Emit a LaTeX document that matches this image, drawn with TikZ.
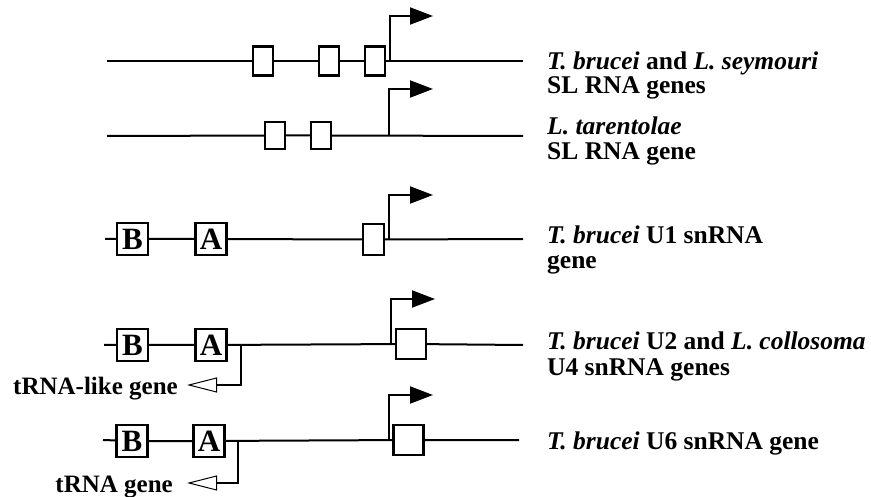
\documentclass[tikz,border=0pt]{standalone}
\usepackage{fontspec}
\setmainfont{Liberation Serif}
\usetikzlibrary{arrows.meta}
\begin{document}
\begin{tikzpicture}[x=1pt,y=-1pt,
 dna/.style={line width=2pt},
 sbox/.style={draw,line width=2.2pt,fill=white,inner sep=0pt},
 bigbox/.style={sbox,minimum width=31pt,minimum height=32pt,font=\fontsize{31}{31}\selectfont\bfseries},
 lbl/.style={anchor=base west,inner sep=0pt,font=\fontsize{25.5}{28}\selectfont\bfseries},
 lblr/.style={anchor=base east,inner sep=0pt,font=\fontsize{25}{28}\selectfont\bfseries},
 prom/.style={line width=2pt,-{Triangle[length=23pt,width=17pt]}},
 trna/.style={line width=2pt,-{Triangle[open,length=30pt,width=15pt,line width=1pt]}}]
\useasboundingbox (0,0) rectangle (871,497);
% Row 1
\coordinate (L1) at (107,61); \coordinate (R1) at (523,61);
\coordinate (P1) at (390,61); \coordinate (T1) at (433,16);
\node[sbox,minimum width=20pt,minimum height=29pt] (a1) at (262.7,61) {};
\node[sbox,minimum width=20pt,minimum height=29pt] (a2) at (329,61) {};
\node[sbox,minimum width=20pt,minimum height=29pt] (a3) at (375,61) {};
\draw[dna] (L1) -- (a1) -- (a2) -- (a3) -- (R1);
\draw[prom] (P1) |- (T1);
\node[lbl] (t1a) at (547,70) {\itshape T. brucei\/ \upshape and \itshape L. seymouri};
\node[lbl] (t1b) at (547,94) {SL RNA genes};
% Row 2
\coordinate (L2) at (107,136); \coordinate (R2) at (523,136);
\coordinate (P2) at (389,136); \coordinate (T2) at (433,89);
\node[sbox,minimum width=20pt,minimum height=27pt] (b1) at (275,135.5) {};
\node[sbox,minimum width=20pt,minimum height=27pt] (b2) at (321,135.5) {};
\draw[dna] (L2) -- (b1) -- (b2) -- (R2);
\draw[prom] (P2) |- (T2);
\node[lbl] (t2a) at (547,135) {\itshape L. tarentolae};
\node[lbl] (t2b) at (547,160) {SL RNA gene};
% Row 3
\coordinate (L3) at (105,239); \coordinate (R3) at (523,239);
\coordinate (P3) at (389,239); \coordinate (T3) at (433,195);
\node[bigbox] (B3) at (132.5,239) {B};
\node[bigbox] (A3) at (211,239) {A};
\node[sbox,minimum width=21pt,minimum height=31pt] (s3) at (373.5,239.5) {};
\draw[dna] (L3) -- (B3) -- (A3) -- (s3) -- (R3);
\draw[prom] (P3) |- (T3);
\node[lbl] (t3a) at (547,244) {\itshape T. brucei\/ \upshape U1 snRNA};
\node[lbl] (t3b) at (547,269) {gene};
% Row 4
\coordinate (L4) at (104,345); \coordinate (R4) at (523,345);
\coordinate (P4) at (391,345); \coordinate (T4) at (435,299);
\coordinate (D4) at (241,345); \coordinate (E4) at (187,385);
\node[bigbox] (B4) at (132.5,345) {B};
\node[bigbox] (A4) at (211,345) {A};
\node[sbox,minimum width=30pt,minimum height=30pt] (s4) at (411,344) {};
\draw[dna] (L4) -- (B4) -- (A4) -- (s4) -- (R4);
\draw[prom] (P4) |- (T4);
\draw[trna] (D4) |- (E4);
\node[lblr] (g4) at (178,394) {tRNA-like gene};
\node[lbl] (t4a) at (547,350) {\itshape T. brucei\/ \upshape U2 and \itshape L. collosoma};
\node[lbl] (t4b) at (547,375) {U4 snRNA genes};
% Row 5
\coordinate (L5) at (103,440); \coordinate (R5) at (519,440);
\coordinate (P5) at (389,440); \coordinate (T5) at (433,395);
\coordinate (D5) at (238,440); \coordinate (E5) at (187,483);
\node[bigbox] (B5) at (132,441) {B};
\node[bigbox] (A5) at (209,441) {A};
\node[sbox,minimum width=30pt,minimum height=30pt] (s5) at (408.5,440) {};
\draw[dna] (L5) -- (B5) -- (A5) -- (s5) -- (R5);
\draw[prom] (P5) |- (T5);
\draw[trna] (D5) |- (E5);
\node[lblr] (g5) at (173,492) {tRNA gene};
\node[lbl] (t5a) at (547,449) {\itshape T. brucei\/ \upshape U6 snRNA gene};
\end{tikzpicture}
\end{document}
